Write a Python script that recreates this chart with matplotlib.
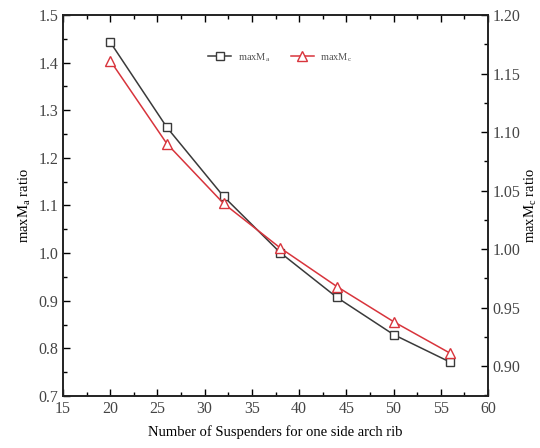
import matplotlib
matplotlib.use('Agg')
import matplotlib.pyplot as plt
from matplotlib.ticker import MultipleLocator, AutoMinorLocator

# data
suspenders = [20, 26, 32, 38, 44, 50, 56]
ratio_a = [1.443, 1.264, 1.119, 1.001, 0.907, 0.829, 0.771]   # left axis
ratio_c = [1.161, 1.090, 1.039, 1.001, 0.968, 0.938, 0.911]   # right axis

plt.rcParams['font.family'] = ['Liberation Serif', 'DejaVu Serif']
plt.rcParams['mathtext.fontset'] = 'custom'
plt.rcParams['mathtext.rm'] = 'Liberation Serif'

fig = plt.figure(figsize=(5.4, 4.48), dpi=100)
ax = fig.add_axes([0.1167, 0.1161, 0.787, 0.8504])
ax2 = ax.twinx()

black = '#3a3a3a'
red = '#d8343c'

l1, = ax.plot(suspenders, ratio_a, color=black, lw=1.1, marker='s', ms=6,
              mfc='white', mec=black, mew=1.0, label=r'maxM$_\mathrm{a}$')
l2, = ax2.plot(suspenders, ratio_c, color=red, lw=1.1, marker='^', ms=7,
               mfc='white', mec=red, mew=1.0, label=r'maxM$_\mathrm{c}$')

ax.set_xlim(15, 60)
ax.set_ylim(0.7, 1.5)
ax2.set_ylim(0.8745, 1.2)

ax.xaxis.set_major_locator(MultipleLocator(5))
ax.xaxis.set_minor_locator(AutoMinorLocator(2))
ax.yaxis.set_major_locator(MultipleLocator(0.1))
ax.yaxis.set_minor_locator(AutoMinorLocator(2))
ax2.yaxis.set_major_locator(MultipleLocator(0.05))
ax2.yaxis.set_minor_locator(AutoMinorLocator(2))

ax.tick_params(axis='x', which='both', direction='in', top=True, labelsize=11.5, labelcolor='#444444')
ax.tick_params(axis='y', which='both', direction='in', right=False, labelsize=11.5, labelcolor='#444444')
ax.tick_params(which='major', length=5, width=1)
ax.tick_params(which='minor', length=3, width=1)
ax2.tick_params(axis='y', which='both', direction='in', labelsize=11.5, labelcolor='#444444')
ax2.tick_params(which='major', length=5, width=1)
ax2.tick_params(which='minor', length=3, width=1)

ax.yaxis.set_major_formatter(plt.FuncFormatter(lambda v, p: f'{v:.1f}'))
ax2.yaxis.set_major_formatter(plt.FuncFormatter(lambda v, p: f'{v:.2f}'))

for a in (ax, ax2):
    for s in a.spines.values():
        s.set_linewidth(1.2)
        s.set_color('#222222')

ax.set_xlabel('Number of Suspenders for one side arch rib', fontsize=10.5, labelpad=6)
ax.set_ylabel(r'maxM$_\mathrm{a}$ ratio', fontsize=10.5, labelpad=4)
ax2.set_ylabel(r'maxM$_\mathrm{c}$ ratio', fontsize=10.5, labelpad=1)

leg = ax.legend(handles=[l1, l2], loc='upper left', bbox_to_anchor=(0.32, 0.93),
                ncol=2, frameon=False, fontsize=7.5, handlelength=2.2,
                columnspacing=2.0, handletextpad=0.6)
for t in leg.get_texts():
    t.set_color('#555555')

fig.savefig('out.png', dpi=100)
